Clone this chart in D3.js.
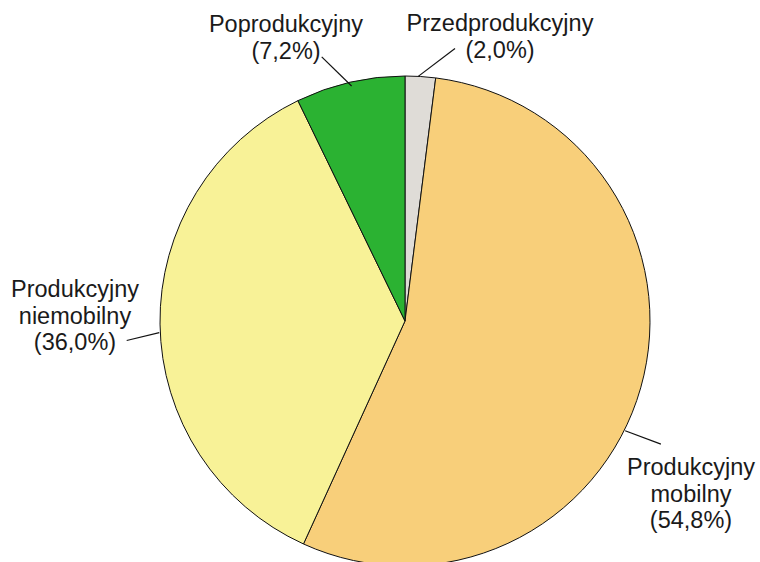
<!DOCTYPE html>
<html>
<head>
<meta charset="utf-8">
<script src="https://cdn.jsdelivr.net/npm/d3@7"></script>
<style>
  html, body { margin: 0; padding: 0; background: #fff; }
  #chart { width: 760px; height: 562px; overflow: hidden; }
  text { font-family: "Liberation Sans", Arial, sans-serif; font-size: 23.5px; fill: #1a1a1a; }
</style>
</head>
<body>
<div id="chart"></div>
<script>
// slice order, clockwise from 12 o'clock
var categories = ["Przedprodukcyjny", "Produkcyjny mobilny", "Produkcyjny niemobilny", "Poprodukcyjny"];
var values = [2.0, 54.8, 36.0, 7.2];
var colors = ["#dfdcd7", "#f8cf7a", "#f8f297", "#2bb232"];

// label text lines (last line gets the percentage)
var labelLines = [["Przedprodukcyjny"], ["Produkcyjny", "mobilny"], ["Produkcyjny", "niemobilny"], ["Poprodukcyjny"]];

var width = 760, height = 562;
var cx = 405, cy = 321, R = 245;

// label placement: text centre x, first baseline y, leader line [inner angle, inner r, outer angle, outer r]
var labelPos = [
  { x: 500, y: 31, lead: [3.1, 245, 10.4, 277] },
  { x: 691, y: 475, lead: [116.5, 246, 115.7, 284] },
  { x: 75, y: 297, lead: [267.3, 246, 266, 279] },
  { x: 286, y: 32, lead: [347.2, 241, 342.5, 277] }
];
var lineH = 26.5;

var svg = d3.select("#chart").append("svg")
  .attr("width", width)
  .attr("height", height);

var pie = d3.pie().sort(null).value(function(d) { return d; });
var arc = d3.arc().innerRadius(0).outerRadius(R);

var g = svg.append("g").attr("transform", "translate(" + cx + "," + cy + ")");

g.selectAll("path.slice")
  .data(pie(values))
  .enter().append("path")
  .attr("class", "slice")
  .attr("d", arc)
  .attr("fill", function(d, i) { return colors[i]; })
  .attr("stroke", "#111")
  .attr("stroke-width", 1);

function polar(deg, r) {
  var a = deg * Math.PI / 180;
  return [cx + r * Math.sin(a), cy - r * Math.cos(a)];
}

var fmt = function(v) { return "(" + v.toFixed(1).replace(".", ",") + "%)"; };

categories.forEach(function(c, i) {
  var p = labelPos[i];
  var a = polar(p.lead[0], p.lead[1]), b = polar(p.lead[2], p.lead[3]);
  svg.append("line")
    .attr("x1", a[0]).attr("y1", a[1])
    .attr("x2", b[0]).attr("y2", b[1])
    .attr("stroke", "#111")
    .attr("stroke-width", 1.2);

  var lines = labelLines[i].concat([fmt(values[i])]);
  var t = svg.append("text")
    .attr("text-anchor", "middle");
  lines.forEach(function(l, j) {
    t.append("tspan")
      .attr("x", p.x)
      .attr("y", p.y + j * lineH)
      .text(l);
  });
});
</script>
</body>
</html>
